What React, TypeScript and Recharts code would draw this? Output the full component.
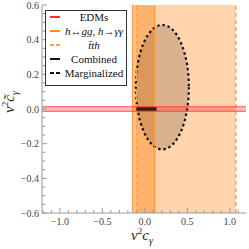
import React from "react";
import { ComposedChart, XAxis, YAxis, ReferenceArea, ReferenceLine, Line } from "recharts";

// ---- data ----
const xDomain: [number, number] = [-1.21, 1.19];
const yDomain: [number, number] = [-0.6, 0.6];
const xTicks = [-1.2, -1.1, -1.0, -0.9, -0.8, -0.7, -0.6, -0.5, -0.4, -0.3, -0.2, -0.1, 0.0, 0.1, 0.2, 0.3, 0.4, 0.5, 0.6, 0.7, 0.8, 0.9, 1.0, 1.1];
const xMajor = [-1.0, -0.5, 0.0, 0.5, 1.0];
const yTicks = [-0.6, -0.55, -0.5, -0.45, -0.4, -0.35, -0.3, -0.25, -0.2, -0.15, -0.1, -0.05, 0.0, 0.05, 0.1, 0.15, 0.2, 0.25, 0.3, 0.35, 0.4, 0.45, 0.5, 0.55, 0.6];
const yMajor = [-0.6, -0.4, -0.2, 0.0, 0.2, 0.4, 0.6];

const edmBand = [-0.013, 0.013]; // y range
const hggBand = [-0.145, 0.118]; // x range
const tthBand = [-0.098, 1.07]; // x range
const ellipseX = [-0.106, 0.518];
const ellipseY = [-0.233, 0.485];
const combined = [
  { x: -0.098, y: 0 },
  { x: 0.138, y: 0 },
];

const legendItems = [
  { label: "EDMs", color: "#ff3030", dash: false, italic: false },
  { label: "h\u2194gg, h\u2192\u03b3\u03b3", color: "#ff8c1a", dash: false, italic: true },
  { label: "t\u0304th", color: "#ffa040", dash: true, italic: true },
  { label: "Combined", color: "#111111", dash: false, italic: false },
  { label: "Marginalized", color: "#111111", dash: true, italic: false },
];

const FONT = "'Times New Roman', 'Liberation Serif', 'DejaVu Serif', 'Noto Serif', serif";
const FRAME = "#9a9a9a";

const fmt = (v: number) => {
  const s = Math.abs(v).toFixed(1);
  return v < -1e-9 ? "\u2212" + s : s;
};
const near = (v: number, arr: number[]) => arr.some((a) => Math.abs(a - v) < 1e-6);

const LeftTick = (p: any) => {
  const v = p.payload.value;
  const major = near(v, yMajor);
  const ax = p.x + 3;
  return (
    <g>
      <line x1={ax} x2={ax + (major ? 5 : 3)} y1={p.y} y2={p.y} stroke={FRAME} strokeWidth={1} />
      {major && (
        <text x={p.x} y={p.y} dy="0.35em" textAnchor="end" style={{ fontFamily: FONT }} fontSize={10} fill="#444">
          {fmt(v)}
        </text>
      )}
    </g>
  );
};
const RightTick = (p: any) => {
  const v = p.payload.value;
  const major = near(v, yMajor);
  return <line x1={p.x} x2={p.x - (major ? 5 : 3)} y1={p.y} y2={p.y} stroke={FRAME} strokeWidth={1} />;
};
const BottomTick = (p: any) => {
  const v = p.payload.value;
  const major = near(v, xMajor);
  const ay = p.y - 3;
  return (
    <g>
      <line x1={p.x} x2={p.x} y1={ay} y2={ay - (major ? 5 : 3)} stroke={FRAME} strokeWidth={1} />
      {major && (
        <text x={p.x} y={p.y} dy="0.85em" textAnchor="middle" style={{ fontFamily: FONT }} fontSize={10} fill="#444">
          {fmt(v)}
        </text>
      )}
    </g>
  );
};
const TopTick = (p: any) => {
  const v = p.payload.value;
  const major = near(v, xMajor);
  return <line x1={p.x} x2={p.x} y1={p.y} y2={p.y + (major ? 5 : 3)} stroke={FRAME} strokeWidth={1} />;
};

const EllipseShape = (p: any) => {
  const { x, y, width, height } = p;
  return (
    <ellipse
      cx={x + width / 2}
      cy={y + height / 2}
      rx={Math.abs(width) / 2}
      ry={Math.abs(height) / 2}
      fill="#6b4a2e"
      fillOpacity={0.25}
      stroke="#111"
      strokeWidth={2.2}
      strokeDasharray="2.5 2.8"
    />
  );
};

export default function App() {
  return (
    <div style={{ position: "absolute", left: 0, top: 0, width: 249, height: 249, background: "#fff" }}>
      <ComposedChart width={249} height={249} data={combined} margin={{ top: 5, right: 3, bottom: 0, left: 0 }}>
        <XAxis
          dataKey="x"
          type="number"
          domain={xDomain}
          ticks={xTicks}
          interval={0}
          allowDataOverflow
          height={36}
          tickSize={0}
          tickMargin={3}
          tickLine={false}
          axisLine={{ stroke: FRAME }}
          tick={<BottomTick />}
        />
        <XAxis
          xAxisId="top"
          orientation="top"
          type="number"
          domain={xDomain}
          ticks={xTicks}
          interval={0}
          allowDataOverflow
          height={0}
          tickSize={0}
          tickMargin={0}
          tickLine={false}
          axisLine={{ stroke: FRAME }}
          tick={<TopTick />}
        />
        <YAxis
          type="number"
          domain={yDomain}
          ticks={yTicks}
          interval={0}
          allowDataOverflow
          width={42}
          tickSize={0}
          tickMargin={3}
          tickLine={false}
          axisLine={{ stroke: FRAME }}
          tick={<LeftTick />}
        />
        <YAxis
          yAxisId="right"
          orientation="right"
          type="number"
          domain={yDomain}
          ticks={yTicks}
          interval={0}
          allowDataOverflow
          width={0}
          tickSize={0}
          tickMargin={0}
          tickLine={false}
          axisLine={{ stroke: FRAME }}
          tick={<RightTick />}
        />
        {/* ttH band */}
        <ReferenceArea x1={tthBand[0]} x2={tthBand[1]} y1={yDomain[0]} y2={yDomain[1]} fill="#ff9634" fillOpacity={0.4} stroke="none" ifOverflow="hidden" />
        <ReferenceLine x={tthBand[0]} stroke="#ffa040" strokeWidth={1.5} strokeDasharray="4 3" />
        <ReferenceLine x={tthBand[1]} stroke="#ffa040" strokeWidth={1.5} strokeDasharray="4 3" />
        {/* h->gg band */}
        <ReferenceArea x1={hggBand[0]} x2={hggBand[1]} y1={yDomain[0]} y2={yDomain[1]} fill="#ff9634" fillOpacity={0.55} stroke="none" ifOverflow="hidden" />
        <ReferenceLine x={hggBand[0]} stroke="#ff9a40" strokeWidth={1.2} />
        <ReferenceLine x={hggBand[1]} stroke="#ff9a40" strokeWidth={1.2} />
        {/* Marginalized ellipse */}
        <ReferenceArea x1={ellipseX[0]} x2={ellipseX[1]} y1={ellipseY[0]} y2={ellipseY[1]} shape={<EllipseShape />} />
        {/* EDM band */}
        <ReferenceArea y1={edmBand[0]} y2={edmBand[1]} x1={xDomain[0]} x2={xDomain[1]} fill="#ff2020" fillOpacity={0.3} stroke="none" />
        <ReferenceLine y={edmBand[0]} stroke="#ff3030" strokeWidth={1} strokeOpacity={0.8} />
        <ReferenceLine y={edmBand[1]} stroke="#ff3030" strokeWidth={1} strokeOpacity={0.8} />
        {/* Combined */}
        <Line dataKey="y" stroke="#3a1d0c" strokeWidth={3.5} dot={false} isAnimationActive={false} />
      </ComposedChart>

      {/* Legend */}
      <div
        style={{
          position: "absolute",
          left: 45,
          top: 10,
          width: 80,
          height: 74,
          border: "1px solid #333",
          background: "#fff",
          fontFamily: FONT,
          fontSize: 11,
          color: "#111",
        }}
      >
        {legendItems.map((it, i) => (
          <div key={i} style={{ position: "absolute", left: 0, top: 0 + i * 14, width: 80, height: 14 }}>
            <svg width={14} height={14} style={{ position: "absolute", left: 3, top: 0 }}>
              <line x1={1} x2={11} y1={6} y2={6} stroke={it.color} strokeWidth={2} strokeDasharray={it.dash ? "4 2" : undefined} />
            </svg>
            <div
              style={{
                position: "absolute",
                left: 15,
                width: 66,
                top: 0,
                textAlign: "center",
                lineHeight: "12px",
                fontStyle: it.italic ? "italic" : "normal",
                whiteSpace: "nowrap",
              }}
            >
              {it.label}
            </div>
          </div>
        ))}
      </div>

      {/* Axis labels */}
      <div
        style={{
          position: "absolute",
          left: 114,
          top: 226,
          width: 56,
          textAlign: "center",
          fontFamily: FONT,
          fontStyle: "italic",
          fontSize: 15,
          color: "#222",
          whiteSpace: "nowrap",
        }}
      >
        {"v"}
        <sup style={{ fontSize: 9, fontStyle: "normal" }}>2</sup>
        {"c"}
        <sub style={{ fontSize: 10 }}>{"\u03b3"}</sub>
      </div>
      <div
        style={{
          position: "absolute",
          left: -18,
          top: 92,
          width: 56,
          textAlign: "center",
          fontFamily: FONT,
          fontStyle: "italic",
          fontSize: 15,
          color: "#222",
          whiteSpace: "nowrap",
          transform: "rotate(-90deg)",
        }}
      >
        {"v"}
        <sup style={{ fontSize: 9, fontStyle: "normal" }}>2</sup>
        {"c\u0303"}
        <sub style={{ fontSize: 10 }}>{"\u03b3"}</sub>
      </div>
    </div>
  );
}
